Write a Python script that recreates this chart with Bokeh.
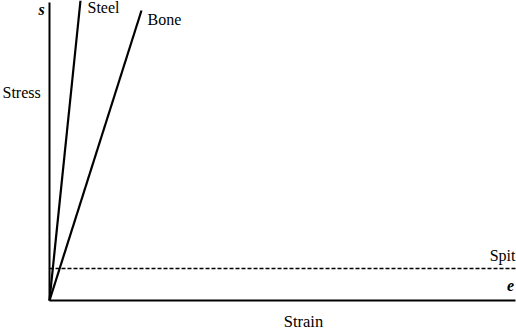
from bokeh.plotting import figure
from bokeh.models import Range1d, Label
from bokeh.embed import file_html
from bokeh.resources import INLINE

# Data (strain e, stress s) in arbitrary units
steel_e = [0.0, 0.31]
steel_s = [0.0, 3.0]
bone_e = [0.0, 0.92]
bone_s = [0.0, 2.9]
spit_e = [0.0, 4.66]
spit_s = [0.32, 0.32]
axis_e_max = 4.66
axis_s_max = 2.98

FONT = "Liberation Serif"

p = figure(width=516, height=330, output_backend="svg", toolbar_location=None,
           x_range=Range1d(-0.49, 4.67), y_range=Range1d(-0.30, 3.0),
           min_border=0, outline_line_color=None)
p.axis.visible = False
p.grid.visible = False
p.background_fill_color = "white"

# axes
p.line([0, axis_e_max], [0, 0], line_color="black", line_width=2)
p.line([0, 0], [0, axis_s_max], line_color="black", line_width=2)

p.line(steel_e, steel_s, line_color="black", line_width=2.2)
p.line(bone_e, bone_s, line_color="black", line_width=2.2)
p.line(spit_e, spit_s, line_color="black", line_width=1.6, line_dash="4 2")

def lab(x, y, t, size="16px", style="normal", align="left", base="middle"):
    p.add_layout(Label(x=x, y=y, text=t, text_font=FONT, text_font_size=size,
                       text_font_style=style, text_align=align, text_baseline=base,
                       text_color="black"))

lab(steel_e[1] + 0.07, steel_s[1] - 0.07, "Steel")
lab(bone_e[1] + 0.06, bone_s[1] - 0.09, "Bone")
lab(spit_e[1] + 0.0, spit_s[1] + 0.13, "Spit", align="right")
lab(-0.47, 2.08, "Stress")
lab(2.54, -0.212, "Strain", size="16.5px", align="center")
lab(-0.08, 2.91, "s", size="16px", style="bold italic", align="center", base="alphabetic")
lab(4.61, 0.15, "e", size="16px", style="bold italic", align="center", base="alphabetic")

open("out.html", "w").write(file_html(p, INLINE))
